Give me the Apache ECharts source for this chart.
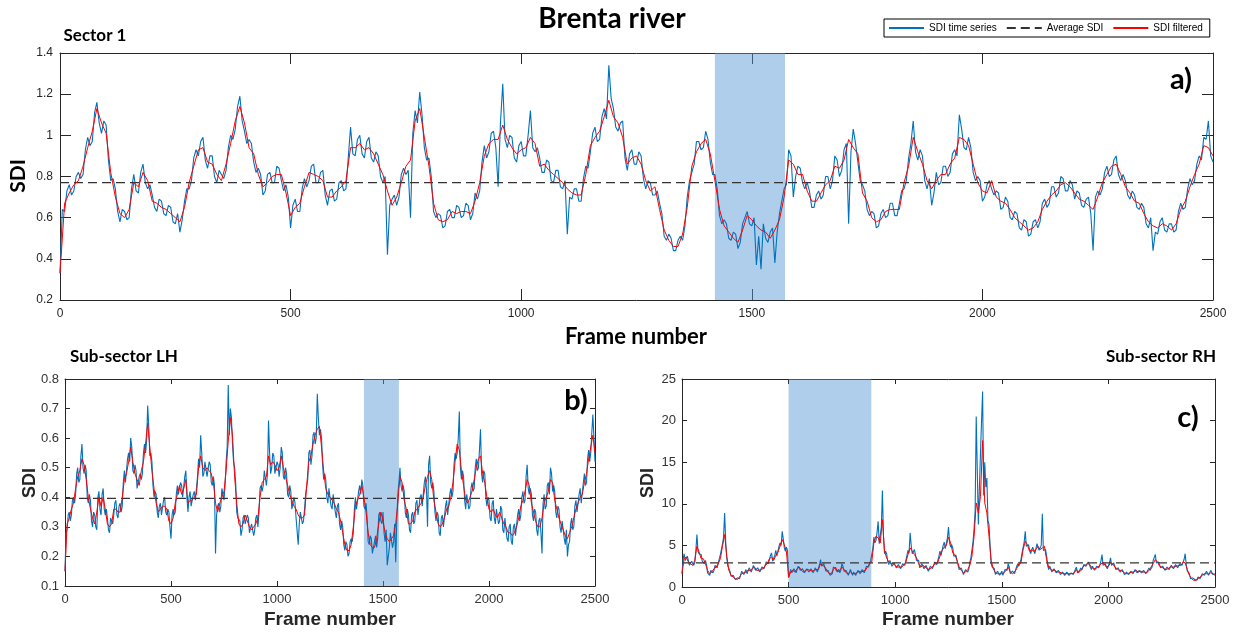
<!DOCTYPE html>
<html><head><meta charset="utf-8">
<script src="https://cdn.jsdelivr.net/npm/echarts@6/dist/echarts.min.js"></script>
<style>html,body{margin:0;padding:0;background:#fff}#c{width:1237px;height:634px}</style>
</head><body><div id="c"></div>
<script>
// Values sampled every 10 frames (0..2500); the *RawMid arrays hold the raw series at frames 5, 15 ... 2495
const FRAME_STEP = 10;
const X_TICKS = [0, 500, 1000, 1500, 2000, 2500];

// ---------- Sector 1 ----------
const sector1Raw = [
0.33,0.63,0.76,0.73,0.82,0.81,0.99,0.97,1.16,1.01,
1.05,0.78,0.74,0.58,0.63,0.60,0.81,0.72,0.86,0.74,
0.71,0.63,0.68,0.61,0.65,0.57,0.53,0.68,0.74,0.89,
0.90,0.99,0.84,0.90,0.77,0.81,0.83,1.00,1.03,1.19,
1.02,0.98,0.87,0.84,0.71,0.81,0.77,0.85,0.78,0.76,
0.55,0.69,0.63,0.79,0.78,0.86,0.77,0.83,0.66,0.74,
0.69,0.78,0.74,1.04,0.90,1.00,0.89,0.99,0.87,0.90,
0.77,0.42,0.69,0.66,0.81,0.81,0.60,1.12,1.21,0.94,
0.89,0.63,0.62,0.55,0.63,0.60,0.66,0.60,0.67,0.59,
0.72,0.73,0.95,0.92,1.02,0.75,1.25,0.94,0.99,0.87,
0.97,0.90,1.12,0.92,0.89,0.82,0.87,0.77,0.83,0.74,
0.52,0.69,0.74,0.68,0.85,0.92,1.04,0.98,1.13,1.34,
1.13,1.02,1.07,0.83,0.93,0.86,0.90,0.74,0.77,0.71,
0.67,0.51,0.52,0.44,0.49,0.49,0.70,0.82,0.97,0.93,
1.02,0.87,0.81,0.61,0.59,0.50,0.53,0.45,0.57,0.63,
0.56,0.37,0.35,0.50,0.53,0.38,0.62,0.74,0.93,0.70,
0.85,0.77,0.77,0.65,0.71,0.69,0.80,0.74,0.90,0.80,
0.93,0.57,1.03,0.87,0.76,0.64,0.63,0.55,0.62,0.60,
0.67,0.61,0.67,0.74,0.89,1.07,0.88,0.90,0.74,0.66,
0.82,0.77,0.85,0.82,0.93,1.10,0.94,0.99,0.82,0.80,
0.68,0.76,0.74,0.73,0.64,0.70,0.60,0.63,0.55,0.59,
0.51,0.58,0.55,0.67,0.65,0.75,0.70,0.80,0.73,0.78,
0.69,0.72,0.65,0.70,0.44,0.73,0.74,0.85,0.81,0.90,
0.78,0.78,0.69,0.71,0.64,0.65,0.55,0.44,0.52,0.60,
0.53,0.57,0.54,0.67,0.65,0.79,0.78,0.90,0.99,1.07,
0.87];
const sector1RawMid = [
0.64,0.73,0.71,0.80,0.79,0.93,0.95,1.11,1.06,1.07,
0.88,0.79,0.63,0.64,0.59,0.74,0.73,0.82,0.77,0.76,
0.65,0.69,0.62,0.66,0.58,0.62,0.59,0.74,0.78,0.93,
0.97,0.88,0.90,0.80,0.83,0.79,0.94,0.98,1.14,1.07,
0.96,0.96,0.82,0.81,0.73,0.82,0.77,0.84,0.73,0.70,
0.66,0.63,0.74,0.75,0.85,0.77,0.82,0.71,0.73,0.68,
0.77,0.73,0.89,0.91,0.98,0.91,0.97,0.89,0.92,0.80,
0.80,0.66,0.71,0.70,0.84,0.83,1.01,1.06,1.10,0.88,
0.80,0.60,0.61,0.56,0.64,0.60,0.65,0.61,0.66,0.62,
0.69,0.87,0.89,1.01,0.94,1.06,0.98,1.00,0.89,0.95,
0.90,1.00,0.94,0.94,0.82,0.88,0.78,0.83,0.75,0.78,
0.70,0.74,0.68,0.79,0.84,1.01,0.97,1.09,1.08,1.18,
1.04,1.06,0.89,0.91,0.86,0.92,0.79,0.78,0.71,0.73,
0.62,0.49,0.50,0.44,0.51,0.56,0.78,0.86,0.97,0.94,
0.98,0.81,0.74,0.57,0.57,0.49,0.52,0.48,0.60,0.57,
0.60,0.51,0.57,0.48,0.55,0.53,0.68,0.76,0.90,0.80,
0.84,0.74,0.73,0.65,0.73,0.71,0.80,0.78,0.88,0.83,
0.96,0.92,0.96,0.78,0.73,0.61,0.62,0.56,0.64,0.61,
0.67,0.61,0.73,0.78,0.96,0.92,0.93,0.78,0.79,0.72,
0.76,0.85,0.80,0.91,0.90,1.03,0.93,0.94,0.78,0.78,
0.70,0.78,0.71,0.72,0.65,0.68,0.59,0.62,0.54,0.58,
0.52,0.59,0.58,0.69,0.67,0.75,0.72,0.79,0.73,0.76,
0.73,0.66,0.69,0.62,0.70,0.71,0.82,0.80,0.88,0.81,
0.81,0.71,0.73,0.65,0.67,0.57,0.60,0.53,0.58,0.54,
0.57,0.53,0.63,0.64,0.74,0.76,0.86,0.88,0.98,0.90];
const sector1Filtered = [
0.33,0.67,0.72,0.76,0.78,0.85,0.94,1.02,1.13,1.06,
1.01,0.82,0.70,0.62,0.60,0.64,0.77,0.75,0.82,0.78,
0.68,0.67,0.65,0.64,0.62,0.60,0.58,0.65,0.77,0.85,
0.93,0.94,0.87,0.86,0.81,0.78,0.86,0.96,1.07,1.14,
1.06,0.94,0.91,0.81,0.75,0.77,0.80,0.81,0.81,0.72,
0.61,0.65,0.67,0.75,0.82,0.81,0.80,0.78,0.70,0.70,
0.73,0.75,0.78,0.94,0.94,0.96,0.93,0.94,0.91,0.86,
0.81,0.73,0.66,0.70,0.77,0.85,0.88,1.07,1.13,0.99,
0.85,0.67,0.59,0.58,0.59,0.63,0.62,0.63,0.63,0.62,
0.68,0.77,0.90,0.96,0.98,0.98,1.05,0.98,0.94,0.91,
0.93,0.94,0.99,0.96,0.85,0.86,0.83,0.81,0.79,0.77,
0.74,0.72,0.71,0.71,0.81,0.95,0.99,1.02,1.09,1.17,
1.09,1.06,0.99,0.86,0.89,0.90,0.86,0.78,0.73,0.75,
0.64,0.54,0.49,0.46,0.46,0.52,0.65,0.85,0.92,0.96,
0.98,0.91,0.78,0.64,0.56,0.53,0.50,0.48,0.54,0.61,
0.59,0.56,0.54,0.53,0.50,0.54,0.59,0.70,0.88,0.86,
0.81,0.81,0.73,0.68,0.68,0.72,0.76,0.78,0.85,0.84,
0.88,0.98,0.94,0.91,0.72,0.68,0.60,0.58,0.59,0.63,
0.64,0.64,0.64,0.77,0.85,0.99,0.92,0.86,0.78,0.74,
0.78,0.81,0.81,0.86,0.89,0.99,0.98,0.95,0.86,0.77,
0.73,0.72,0.78,0.70,0.68,0.67,0.64,0.60,0.58,0.56,
0.54,0.55,0.58,0.64,0.68,0.71,0.73,0.76,0.77,0.75,
0.72,0.69,0.68,0.66,0.64,0.70,0.77,0.81,0.85,0.86,
0.81,0.75,0.72,0.68,0.67,0.62,0.58,0.56,0.55,0.57,
0.56,0.54,0.57,0.64,0.68,0.75,0.81,0.86,0.95,0.94,
0.90];
const sector1Average = 0.77;
const sector1Shade = [1420, 1572];

// ---------- Sub-sector LH ----------
const lhRaw = [
0.15,0.29,0.35,0.34,0.40,0.41,0.50,0.46,0.58,0.48,
0.49,0.38,0.39,0.30,0.34,0.29,0.42,0.34,0.43,0.34,
0.33,0.28,0.33,0.34,0.39,0.33,0.38,0.37,0.49,0.45,
0.55,0.60,0.49,0.51,0.43,0.47,0.46,0.55,0.55,0.71,
0.54,0.52,0.40,0.41,0.33,0.38,0.34,0.40,0.34,0.35,
0.26,0.36,0.35,0.44,0.41,0.44,0.40,0.49,0.35,0.42,
0.37,0.42,0.39,0.53,0.61,0.47,0.52,0.47,0.52,0.45,
0.47,0.21,0.37,0.35,0.43,0.39,0.52,0.78,0.70,0.58,
0.50,0.35,0.33,0.27,0.33,0.31,0.34,0.28,0.31,0.27,
0.33,0.30,0.43,0.42,0.49,0.44,0.66,0.48,0.55,0.48,
0.52,0.47,0.57,0.47,0.50,0.41,0.44,0.36,0.40,0.33,
0.24,0.35,0.31,0.36,0.41,0.55,0.51,0.61,0.58,0.75,
0.61,0.60,0.46,0.46,0.38,0.43,0.36,0.41,0.33,0.38,
0.29,0.30,0.22,0.24,0.21,0.26,0.28,0.40,0.36,0.44,
0.46,0.37,0.38,0.25,0.27,0.21,0.25,0.23,0.34,0.32,
0.35,0.25,0.17,0.23,0.28,0.25,0.18,0.41,0.50,0.42,
0.42,0.33,0.34,0.28,0.35,0.32,0.39,0.34,0.41,0.37,
0.47,0.30,0.54,0.43,0.42,0.32,0.34,0.27,0.34,0.30,
0.39,0.34,0.43,0.42,0.55,0.55,0.69,0.46,0.47,0.36,
0.41,0.37,0.45,0.43,0.53,0.50,0.63,0.45,0.48,0.37,
0.39,0.32,0.39,0.31,0.36,0.32,0.36,0.28,0.33,0.25,
0.31,0.24,0.31,0.27,0.36,0.34,0.42,0.39,0.51,0.41,
0.41,0.32,0.35,0.27,0.33,0.21,0.41,0.37,0.45,0.50,
0.42,0.42,0.33,0.36,0.28,0.32,0.24,0.20,0.25,0.33,
0.30,0.39,0.35,0.43,0.38,0.48,0.45,0.56,0.55,0.68,
0.52];
const lhRawMid = [
0.28,0.34,0.32,0.39,0.38,0.48,0.45,0.54,0.50,0.51,
0.40,0.41,0.32,0.35,0.30,0.40,0.36,0.41,0.36,0.36,
0.29,0.33,0.31,0.38,0.34,0.37,0.35,0.45,0.45,0.53,
0.52,0.57,0.48,0.49,0.43,0.48,0.48,0.58,0.59,0.64,
0.55,0.44,0.42,0.35,0.37,0.34,0.39,0.35,0.36,0.30,
0.34,0.34,0.41,0.41,0.45,0.40,0.47,0.40,0.40,0.37,
0.41,0.39,0.47,0.50,0.55,0.48,0.52,0.47,0.51,0.44,
0.44,0.34,0.38,0.37,0.43,0.44,0.57,0.61,0.67,0.52,
0.45,0.33,0.32,0.29,0.34,0.31,0.33,0.28,0.31,0.29,
0.34,0.35,0.44,0.44,0.49,0.48,0.55,0.50,0.54,0.48,
0.51,0.50,0.55,0.46,0.48,0.40,0.42,0.36,0.38,0.33,
0.31,0.35,0.32,0.41,0.46,0.56,0.54,0.62,0.60,0.67,
0.63,0.51,0.48,0.40,0.43,0.37,0.41,0.35,0.37,0.31,
0.32,0.24,0.25,0.20,0.25,0.25,0.36,0.36,0.42,0.41,
0.44,0.36,0.33,0.24,0.26,0.21,0.27,0.26,0.35,0.31,
0.28,0.29,0.20,0.28,0.23,0.31,0.32,0.45,0.44,0.44,
0.35,0.36,0.29,0.34,0.31,0.38,0.34,0.40,0.37,0.45,
0.43,0.51,0.45,0.45,0.35,0.35,0.28,0.33,0.30,0.37,
0.34,0.41,0.40,0.51,0.53,0.60,0.50,0.49,0.39,0.41,
0.36,0.43,0.42,0.50,0.49,0.56,0.48,0.49,0.40,0.40,
0.33,0.38,0.33,0.36,0.31,0.37,0.29,0.33,0.26,0.30,
0.25,0.30,0.27,0.34,0.32,0.40,0.38,0.47,0.43,0.43,
0.34,0.36,0.29,0.32,0.28,0.38,0.36,0.44,0.41,0.48,
0.44,0.35,0.37,0.30,0.32,0.26,0.29,0.24,0.31,0.29,
0.37,0.35,0.41,0.38,0.45,0.44,0.53,0.52,0.62,0.60];
const lhFiltered = [
0.15,0.31,0.33,0.36,0.38,0.43,0.47,0.49,0.53,0.51,
0.46,0.40,0.36,0.33,0.31,0.35,0.40,0.37,0.40,0.36,
0.31,0.30,0.31,0.36,0.36,0.35,0.35,0.40,0.46,0.48,
0.52,0.57,0.52,0.48,0.46,0.44,0.49,0.52,0.58,0.65,
0.57,0.49,0.43,0.38,0.35,0.36,0.37,0.37,0.36,0.32,
0.31,0.33,0.38,0.41,0.44,0.41,0.43,0.46,0.38,0.39,
0.39,0.40,0.41,0.50,0.54,0.50,0.49,0.50,0.49,0.48,
0.45,0.38,0.35,0.38,0.40,0.42,0.49,0.59,0.67,0.61,
0.47,0.38,0.31,0.30,0.31,0.34,0.32,0.30,0.29,0.30,
0.31,0.33,0.40,0.45,0.46,0.47,0.54,0.51,0.52,0.51,
0.49,0.50,0.54,0.50,0.47,0.44,0.41,0.39,0.37,0.36,
0.34,0.33,0.33,0.34,0.44,0.52,0.54,0.58,0.61,0.63,
0.64,0.57,0.49,0.43,0.41,0.40,0.39,0.38,0.36,0.35,
0.32,0.28,0.24,0.22,0.22,0.24,0.30,0.37,0.39,0.41,
0.44,0.40,0.35,0.28,0.24,0.23,0.23,0.26,0.31,0.35,
0.32,0.28,0.26,0.25,0.26,0.27,0.31,0.38,0.47,0.45,
0.39,0.36,0.31,0.31,0.32,0.35,0.36,0.37,0.38,0.40,
0.44,0.47,0.49,0.46,0.39,0.35,0.31,0.30,0.31,0.33,
0.36,0.37,0.40,0.45,0.52,0.58,0.56,0.49,0.44,0.39,
0.38,0.40,0.42,0.46,0.50,0.53,0.54,0.48,0.45,0.40,
0.36,0.35,0.36,0.34,0.33,0.35,0.33,0.31,0.30,0.28,
0.28,0.27,0.28,0.30,0.33,0.37,0.39,0.42,0.46,0.44,
0.38,0.35,0.32,0.30,0.30,0.33,0.38,0.40,0.42,0.46,
0.45,0.39,0.36,0.33,0.31,0.29,0.27,0.26,0.28,0.30,
0.33,0.36,0.38,0.40,0.41,0.45,0.48,0.53,0.57,0.61,
0.55];
const lhAverage = 0.396;
const lhShade = [1410, 1575];

// ---------- Sub-sector RH ----------
const rhRaw = [
1.6,4.0,3.2,3.5,2.5,3.0,2.9,6.3,4.0,3.9,
3.0,3.2,1.7,1.4,2.1,2.0,2.8,2.5,3.9,5.2,
8.9,3.5,2.3,1.3,1.4,0.9,1.1,1.0,1.9,1.5,
2.1,1.8,2.3,2.0,2.7,1.8,2.3,1.9,2.5,2.3,
3.2,3.0,4.1,2.9,4.4,3.8,5.3,6.7,4.7,4.8,
1.1,2.1,1.7,2.1,1.9,2.7,1.8,2.1,1.7,2.4,
1.8,2.2,1.8,2.4,1.9,3.3,2.4,2.8,1.8,1.8,
1.4,2.4,2.2,2.1,1.7,2.8,1.9,2.0,1.4,2.1,
1.4,1.8,1.5,2.2,1.6,2.2,1.8,2.7,2.6,3.4,
6.0,5.6,7.9,5.0,11.6,4.0,4.0,2.7,3.2,2.5,
3.0,2.1,2.8,2.1,3.0,2.7,4.4,6.5,4.0,4.5,
3.2,3.2,2.1,3.0,2.1,2.6,1.8,2.7,2.3,3.2,
2.6,4.3,4.0,5.4,4.5,7.2,4.8,4.7,3.5,3.6,
2.1,2.3,1.5,2.1,1.8,3.0,3.3,7.0,20.5,7.5,
16.0,23.5,15.0,13.1,7.5,2.8,2.5,1.5,1.9,1.4,
1.9,1.5,2.3,2.8,1.6,1.9,1.6,2.5,2.5,3.3,
4.1,6.7,4.7,5.0,4.1,5.0,4.1,5.4,4.2,8.8,
4.5,3.8,2.1,2.5,1.7,2.3,1.6,2.1,1.5,1.9,
1.4,1.8,1.4,1.9,1.5,2.4,1.5,2.3,2.1,2.9,
2.5,3.1,2.1,2.5,1.9,2.7,2.3,3.9,2.5,2.8,
2.2,3.5,2.5,2.7,1.9,2.3,1.8,2.1,1.4,1.8,
1.5,2.0,1.6,2.3,1.6,2.1,1.6,2.0,1.5,2.3,
2.1,3.2,3.9,2.8,2.8,2.1,2.5,1.9,2.5,2.1,
2.7,2.1,2.8,2.3,2.9,2.7,4.0,1.9,1.6,0.9,
1.0,0.7,1.2,1.0,1.6,1.4,1.9,1.4,2.0,1.5,
1.6];
const rhRawMid = [
3.3,3.2,3.7,2.6,3.1,2.6,4.4,4.3,4.2,3.1,
2.8,2.7,1.5,2.0,1.7,2.6,2.3,3.4,3.9,6.0,
5.4,2.5,1.9,1.1,1.3,0.8,1.3,1.2,1.9,1.5,
1.6,2.3,1.8,2.6,2.0,2.3,1.8,2.4,2.2,3.0,
2.8,3.8,3.1,3.8,3.7,4.9,5.0,5.8,4.3,4.4,
1.7,1.7,2.2,1.7,2.5,2.0,2.2,1.7,2.2,1.8,
2.2,1.7,2.3,1.8,2.7,2.5,2.8,1.9,2.0,1.4,
1.6,2.5,1.9,2.1,2.0,2.5,1.7,1.9,1.5,1.9,
1.8,1.4,2.0,1.6,2.1,1.7,2.5,2.4,3.2,4.6,
5.3,6.6,5.2,7.2,6.0,4.3,3.0,3.2,2.5,2.9,
2.3,2.7,2.2,2.8,2.6,3.8,4.1,5.0,3.8,3.9,
3.4,2.3,2.8,2.2,2.6,1.9,2.5,2.2,3.0,2.7,
3.7,3.8,5.0,4.6,5.9,5.3,5.1,3.7,3.8,2.6,
2.0,2.1,1.5,2.2,2.1,3.5,5.4,9.2,14.0,12.0,
20.0,11.0,12.0,8.0,5.0,2.4,2.2,1.4,1.8,1.4,
1.4,2.1,2.0,2.4,1.5,1.9,1.8,2.8,2.6,4.1,
5.4,4.9,5.1,4.0,4.8,4.0,5.2,4.4,5.0,4.4,
4.5,2.6,2.5,1.8,2.2,1.7,2.0,1.5,1.8,1.4,
1.8,1.4,1.7,1.5,2.1,1.7,2.0,2.0,2.7,2.5,
3.0,2.4,2.5,2.0,2.5,2.3,3.1,2.6,2.8,2.2,
2.9,2.6,2.9,2.1,2.3,1.8,2.1,1.5,1.8,1.5,
1.9,1.6,2.1,1.7,2.0,1.7,2.0,1.6,2.0,2.0,
2.4,3.4,2.9,3.0,2.3,2.5,2.0,2.4,2.1,2.6,
2.2,2.7,2.3,2.8,2.6,3.3,2.7,1.9,1.0,1.1,
0.9,0.8,1.2,1.2,1.6,1.5,1.8,1.5,1.8,1.4];
const rhFiltered = [
1.6,3.4,3.6,3.0,2.8,2.6,3.2,4.9,4.2,3.4,
3.4,2.8,2.0,1.6,1.8,2.2,2.4,2.8,3.4,4.9,
6.3,3.7,2.0,1.4,1.2,1.0,0.9,1.2,1.6,1.7,
1.8,2.0,2.0,2.2,2.4,2.0,2.0,2.1,2.2,2.6,
2.8,3.4,3.6,3.2,3.8,4.2,4.9,5.7,5.1,4.2,
1.2,1.8,2.0,1.8,2.2,2.4,2.0,1.8,2.0,2.1,
2.0,1.9,2.0,2.1,2.1,2.8,2.6,2.4,2.0,1.6,
1.6,2.1,2.4,1.8,2.0,2.4,2.1,1.7,1.6,1.8,
1.6,1.6,1.7,1.9,1.8,1.9,2.0,2.4,2.8,3.0,
5.3,6.1,5.9,5.3,8.1,4.3,3.5,3.0,2.8,2.8,
2.6,2.4,2.4,2.4,2.6,3.0,3.9,4.7,4.3,3.9,
3.5,2.8,2.4,2.6,2.4,2.2,2.1,2.3,2.6,2.8,
3.0,3.7,4.4,4.8,5.0,6.0,5.3,4.1,3.9,3.2,
2.4,2.0,1.7,1.8,2.1,2.6,3.7,6.1,10.1,8.9,
10.9,17.6,10.1,8.9,6.1,3.2,2.2,1.7,1.6,1.6,
1.6,1.7,2.0,2.4,1.8,1.6,1.8,2.2,2.8,2.9,
4.5,5.5,5.1,4.3,4.5,4.3,4.5,4.9,4.5,4.7,
4.9,3.3,2.4,2.1,2.0,2.0,1.8,1.8,1.7,1.6,
1.6,1.6,1.6,1.6,1.7,2.1,1.7,2.0,2.4,2.6,
2.8,2.8,2.4,2.2,2.2,2.4,2.6,2.9,2.8,2.4,
2.5,2.9,2.8,2.4,2.2,2.0,2.0,1.8,1.6,1.6,
1.7,1.8,1.8,2.0,1.8,1.9,1.8,1.8,1.7,2.0,
2.4,2.8,3.3,3.0,2.5,2.4,2.2,2.1,2.2,2.4,
2.4,2.4,2.5,2.6,2.6,3.0,2.9,2.1,1.4,1.0,
0.8,0.8,1.0,1.2,1.4,1.6,1.6,1.6,1.7,1.6,
1.4];
const rhAverage = 2.9;
const rhShade = [500, 888];

const BLUE = '#0072BD', RED = '#FF0000', AXIS = '#262626';
const SHADE = 'rgba(88,152,214,0.48)';

function pairs(arr){ return arr.map((v,i)=>[i*FRAME_STEP, v]); }
function rawPairs(arr, mid){
  const out = [];
  arr.forEach((v,i)=>{ out.push([i*FRAME_STEP, v]); if (i < mid.length) out.push([i*FRAME_STEP + FRAME_STEP/2, mid[i]]); });
  return out;
}

const grids = [
  {left:60, top:53, width:1153, height:247},
  {left:65, top:379, width:530, height:207},
  {left:682, top:379, width:533, height:208}
];
const yCfg = [
  {min:0.2, max:1.4, interval:0.2},
  {min:0.1, max:0.8, interval:0.1},
  {min:0, max:25, interval:5}
];
const tickLen = [11, 5, 5];
const labelFont = [
  {fontSize:12, fontFamily:'"Liberation Sans Narrow","Liberation Sans",Arial', color:AXIS},
  {fontSize:13, fontFamily:'"Liberation Sans",Arial', color:'#333'},
  {fontSize:13, fontFamily:'"Liberation Sans",Arial', color:'#333'}
];

const xAxis = [], yAxis = [];
grids.forEach((g,p)=>{
  const base = {min:0, max:2500, interval:500, type:'value', gridIndex:p,
    axisLine:{show:true, onZero:false, lineStyle:{color:AXIS, width:1}},
    axisTick:{show:true, inside:true, length:tickLen[p], lineStyle:{color:AXIS}},
    splitLine:{show:false}};
  xAxis.push(Object.assign({}, base, {position:'bottom',
    axisLabel:Object.assign({show:true, margin:p===0?8:7, formatter:v=>String(v)}, labelFont[p])}));
  xAxis.push(Object.assign({}, base, {position:'top', axisLabel:{show:false}}));
  const yb = Object.assign({type:'value', gridIndex:p}, yCfg[p], {
    axisLine:{show:true, onZero:false, lineStyle:{color:AXIS, width:1}},
    axisTick:{show:true, inside:true, length:tickLen[p], lineStyle:{color:AXIS}},
    splitLine:{show:false}});
  yAxis.push(Object.assign({}, yb, {position:'left',
    axisLabel:Object.assign({show:true, margin:p===0?7:6}, labelFont[p])}));
  yAxis.push(Object.assign({}, yb, {position:'right', axisLabel:{show:false}}));
});

const panels = [
  [sector1Raw, sector1RawMid, sector1Filtered, sector1Average, sector1Shade],
  [lhRaw, lhRawMid, lhFiltered, lhAverage, lhShade],
  [rhRaw, rhRawMid, rhFiltered, rhAverage, rhShade]
];
const series = [];
panels.forEach(([raw, mid, filt, avg, shade], p)=>{
  const ax = {xAxisIndex:2*p, yAxisIndex:2*p};
  series.push(Object.assign({name:'SDI time series', type:'line', data:rawPairs(raw, mid), symbol:'none', showSymbol:false,
    lineStyle:{color:BLUE, width:1.1}, itemStyle:{color:BLUE}, z:2}, ax));
  series.push(Object.assign({name:'Average SDI', type:'line', data:[[0,avg],[2500,avg]], symbol:'none', showSymbol:false,
    lineStyle:{color:'#333', width:1.3, type:[9,5]}, itemStyle:{color:'#333'}, z:3}, ax));
  series.push(Object.assign({name:'SDI filtered', type:'line', data:pairs(filt), symbol:'none', showSymbol:false,
    lineStyle:{color:RED, width:1}, itemStyle:{color:RED}, z:4}, ax));
  series.push(Object.assign({name:'shade'+p, type:'line', data:[], symbol:'none', zlevel:1, z:6,
    markArea:{silent:true, itemStyle:{color:SHADE}, data:[[{xAxis:shade[0]},{xAxis:shade[1]}]]}}, ax));
});

const T = (text, x, y, font, opts={}, fill='#000') => Object.assign({type:'text', x, y, silent:true, zlevel:2,
  style:{text, font, fill, align:'center', verticalAlign:'middle'}}, opts);

const chart = echarts.init(document.getElementById('c'), null, {renderer:'canvas'});
chart.setOption({
  animation:false,
  backgroundColor:'#fff',
  grid:grids.map(g=>Object.assign({containLabel:false}, g)),
  xAxis, yAxis, series,
  legend:{data:['SDI time series','Average SDI','SDI filtered'], left:884, top:19,
    orient:'horizontal', itemWidth:35, itemHeight:10, itemGap:9, padding:[4,7,4,4],
    borderColor:'#000', borderWidth:1, borderRadius:0, backgroundColor:'#fff',
    selectedMode:false, itemStyle:{opacity:0},
    textStyle:{fontSize:10, fontFamily:'"Liberation Sans",Arial', color:'#000'}},
  graphic:[
    T('Brenta river', 612, 19, 'bold 28px Lato'),
    T('Sector 1', 95, 36, 'bold 17px Lato'),
    T('Sub-sector LH', 124, 357, 'bold 17px Lato'),
    T('Sub-sector RH', 1161, 357, 'bold 17px Lato'),
    T('SDI', 18, 176, 'bold 21px Lato', {rotation:Math.PI/2}),
    T('Frame number', 636, 337, 'bold 22px Lato'),
    T('SDI', 30, 483, 'bold 18px "Liberation Sans"', {rotation:Math.PI/2}, '#262626'),
    T('Frame number', 330, 620, 'bold 19px "Liberation Sans"', {}, '#262626'),
    T('SDI', 648, 483, 'bold 18px "Liberation Sans"', {rotation:Math.PI/2}, '#262626'),
    T('Frame number', 948, 620, 'bold 19px "Liberation Sans"', {}, '#262626'),
    T('a)', 1181, 80, 'bold 29px Lato'),
    T('b)', 576, 401, 'bold 29px Lato'),
    T('c)', 1188, 418, 'bold 29px Lato')
  ]
});
</script></body></html>
